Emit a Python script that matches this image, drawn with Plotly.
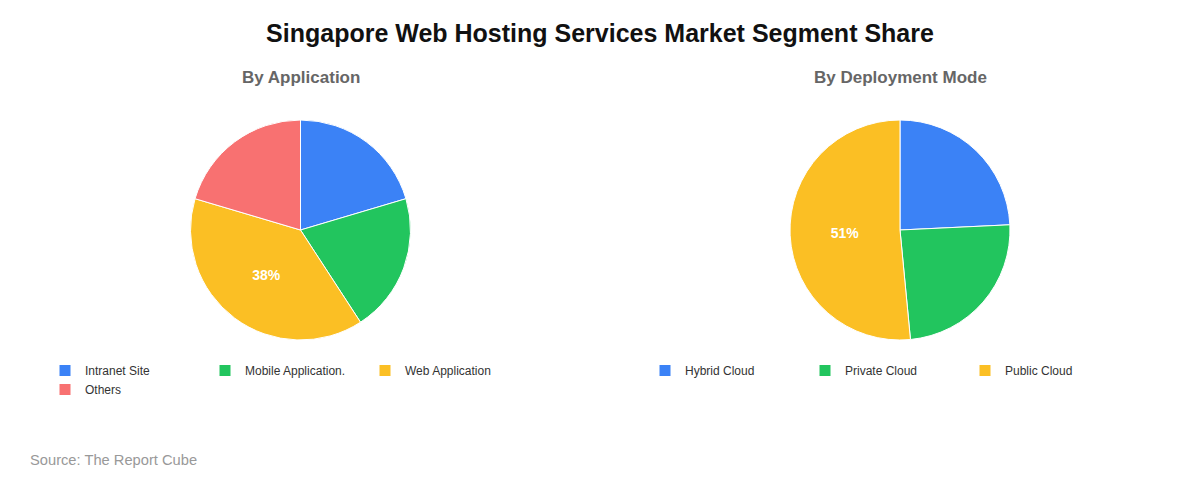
import plotly.graph_objects as go

app_labels = ["Intranet Site", "Mobile Application.", "Web Application", "Others"]
app_values = [20, 20, 38, 20]
app_colors = ["#3B82F6", "#22C55E", "#FBBF24", "#F87171"]

dep_labels = ["Hybrid Cloud", "Private Cloud", "Public Cloud"]
dep_values = [24, 24, 51]
dep_colors = ["#3B82F6", "#22C55E", "#FBBF24"]

title_text = "Singapore Web Hosting Services Market Segment Share"
sub_titles = ["By Application", "By Deployment Mode"]
source_text = "Source: The Report Cube"

FONT = "Liberation Sans, Arial, sans-serif"

W, H = 1200, 480
ML, MR = 100, 100
GW = W - ML - MR


def px_x(px):
    return (px - ML) / GW


def px_y(py):
    return 1 - py / H


def slice_text(values):
    m = max(values)
    return [f"{v}%" if v == m else "" for v in values]


R = 110
CY = 222
centers = [292.5, 892]

fig = go.Figure()
fig.add_trace(go.Pie(
    labels=app_labels, values=app_values, sort=False, direction="clockwise",
    rotation=0, marker=dict(colors=app_colors, line=dict(color="white", width=1)),
    text=slice_text(app_values), textinfo="text", textposition="inside",
    insidetextorientation="horizontal",
    textfont=dict(family=FONT, size=14, color="white", weight="bold"),
    domain=dict(x=[px_x(centers[0] - R), px_x(centers[0] + R)],
                y=[px_y(CY + R), px_y(CY - R)]),
    legend="legend", hoverinfo="label+percent",
))
fig.add_trace(go.Pie(
    labels=dep_labels, values=dep_values, sort=False, direction="clockwise",
    rotation=0, marker=dict(colors=dep_colors, line=dict(color="white", width=1)),
    text=slice_text(dep_values), textinfo="text", textposition="inside",
    insidetextorientation="horizontal",
    textfont=dict(family=FONT, size=14, color="white", weight="bold"),
    domain=dict(x=[px_x(centers[1] - R), px_x(centers[1] + R)],
                y=[px_y(CY + R), px_y(CY - R)]),
    legend="legend2", hoverinfo="label+percent",
))

legend_common = dict(
    orientation="h", xanchor="left", yanchor="top",
    font=dict(family=FONT, size=12, color="#333"),
    entrywidth=115, entrywidthmode="pixels",
    bgcolor="rgba(0,0,0,0)", itemclick=False, itemdoubleclick=False,
)

fig.update_layout(
    width=W, height=H,
    margin=dict(l=ML, r=MR, t=0, b=0),
    paper_bgcolor="white", plot_bgcolor="white",
    font=dict(family=FONT),
    title=dict(text=f"<b>{title_text}</b>", x=592 / W, xanchor="center",
               y=px_y(25), yanchor="middle",
               font=dict(family=FONT, size=25, color="#111")),
    showlegend=True,
    legend=dict(x=px_x(37), y=px_y(348), **legend_common),
    legend2=dict(x=px_x(637), y=px_y(348), **legend_common),
    annotations=[
        dict(text=f"<b>{sub_titles[0]}</b>", x=px_x(centers[0]), y=px_y(69),
             xref="paper", yref="paper", showarrow=False, xanchor="center",
             yanchor="middle", font=dict(family=FONT, size=17, color="#666")),
        dict(text=f"<b>{sub_titles[1]}</b>", x=px_x(centers[1]), y=px_y(69),
             xref="paper", yref="paper", showarrow=False, xanchor="center",
             yanchor="middle", font=dict(family=FONT, size=17, color="#666")),
        dict(text=source_text, x=px_x(20), y=px_y(451.5),
             xref="paper", yref="paper", showarrow=False, xanchor="left",
             yanchor="middle", font=dict(family=FONT, size=14.7, color="#999")),
    ],
)

fig.write_html("out.html")
